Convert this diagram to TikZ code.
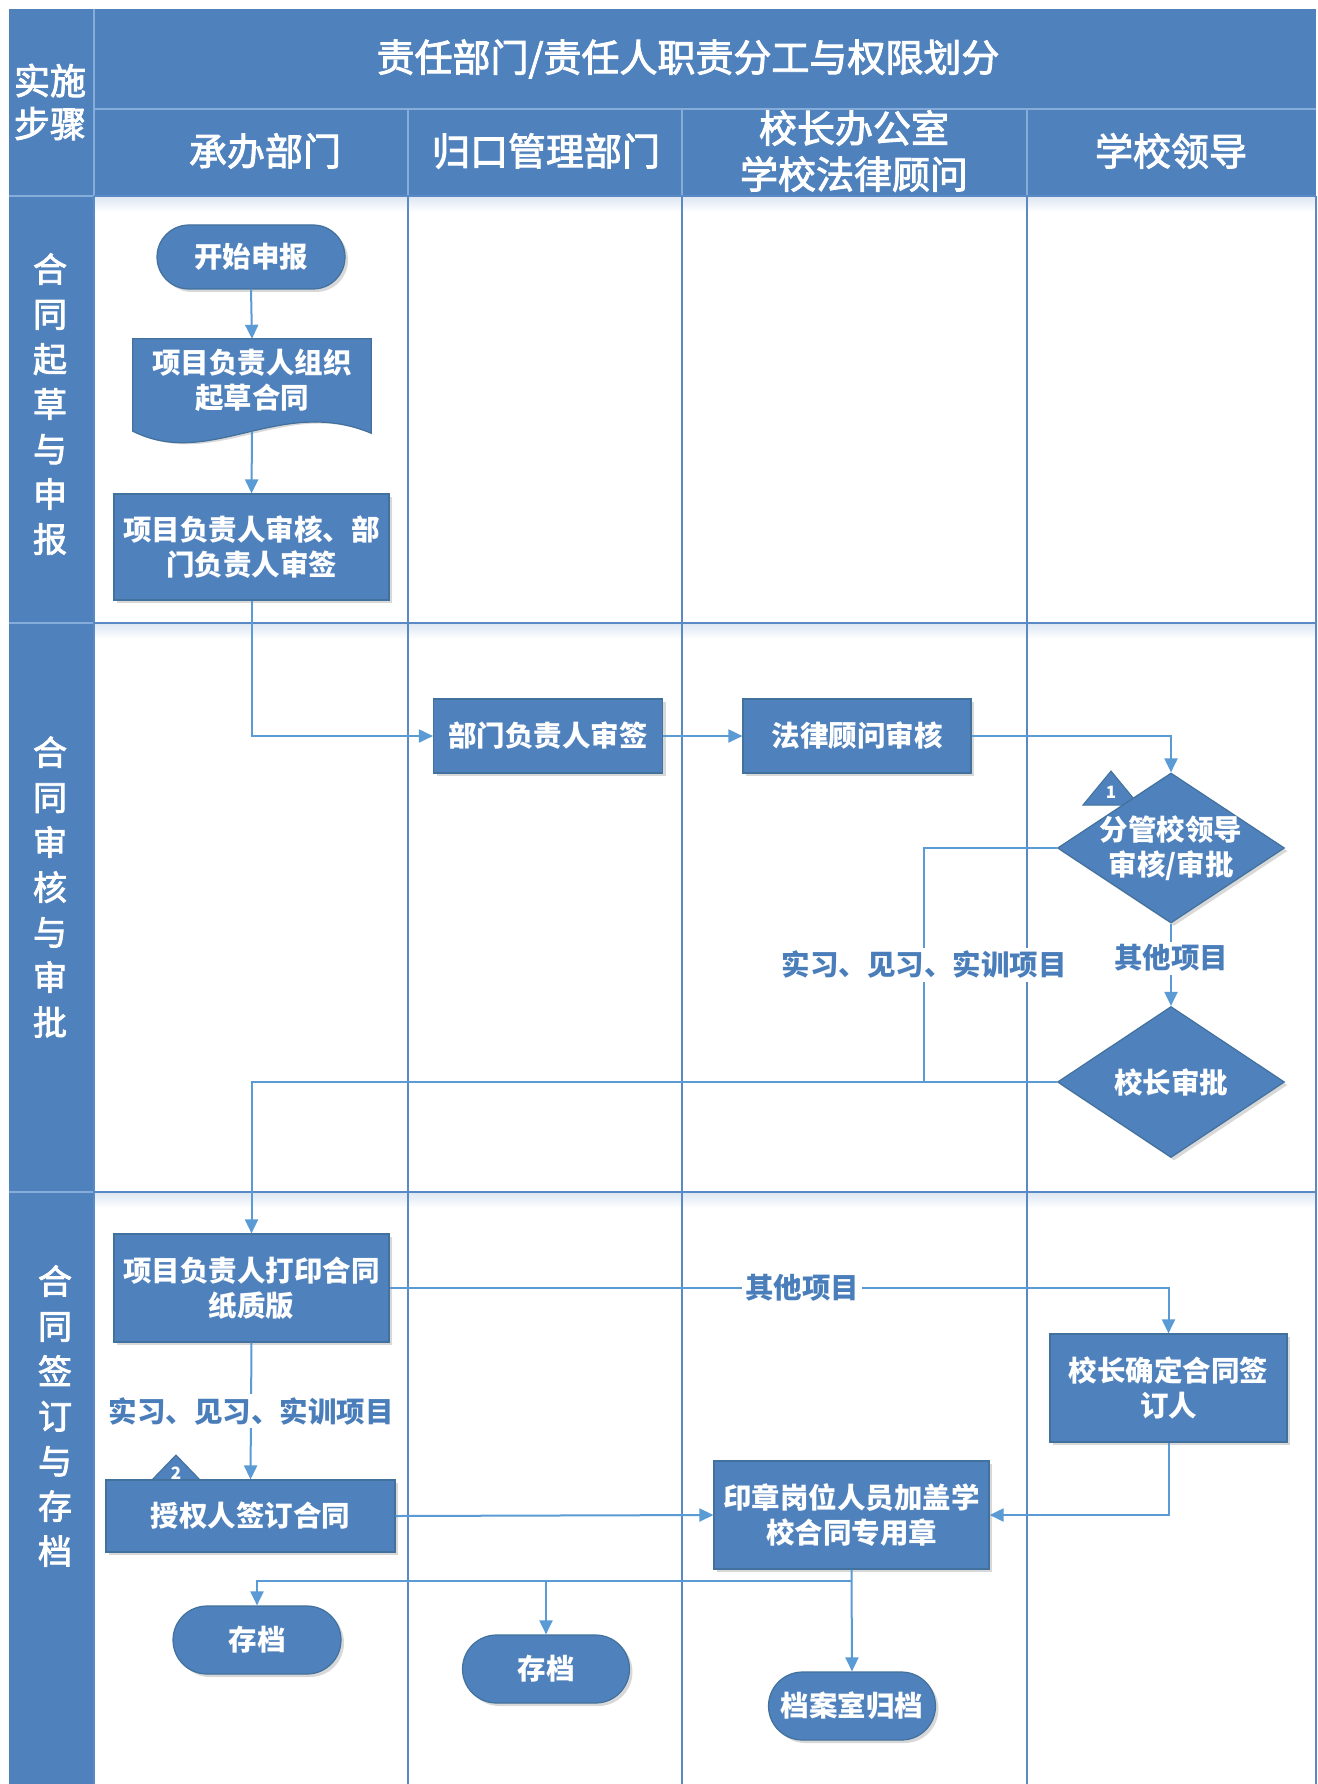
\documentclass[tikz,border=0pt]{standalone}
\usepackage{fontspec}
\newfontfamily\cjk{Noto Sans CJK SC}
\newfontfamily\cjkmed{Noto Sans CJK SC}[FakeBold=2.5]
\usetikzlibrary{shapes.geometric,shapes.misc,arrows.meta,shadows,calc}
\definecolor{boxfill}{HTML}{4F81BD}
\definecolor{boxdraw}{HTML}{41719C}
\definecolor{conncol}{HTML}{5B9BD5}
\definecolor{gridcol}{HTML}{5A8AC6}
\definecolor{hdrline}{HTML}{86ACDA}
\definecolor{labcol}{HTML}{4A7EBB}
\definecolor{lanetop}{HTML}{DCE6F2}
\begin{document}
\begin{tikzpicture}[x=1pt,y=-1pt,
  every node/.style={font=\cjk},
  shd/.style={drop shadow={shadow xshift=3pt, shadow yshift=-3pt, opacity=0.25, fill=black!60}},
  boxtext/.style={text=white, font=\cjk\bfseries\fontsize{28.5}{35}\selectfont, align=center},
  proc/.style={rectangle, fill=boxfill, draw=boxdraw, line width=1.2pt, inner sep=0pt, shd, boxtext},
  term/.style={rounded rectangle, fill=boxfill, draw=boxdraw, line width=1.2pt, inner sep=0pt, shd, boxtext},
  decis/.style={diamond, fill=boxfill, draw=boxdraw, line width=1.2pt, inner sep=0pt, shd},
  hdr/.style={text=white, font=\cjkmed\fontsize{38}{46}\selectfont, align=center},
  rowlab/.style={text=white, font=\cjkmed\fontsize{34}{45}\selectfont, align=center},
  elab/.style={fill=white, text=labcol, font=\cjk\bfseries\fontsize{28.5}{34}\selectfont, inner sep=3pt},
  conn/.style={draw=conncol, line width=2pt, -{Triangle[length=14pt,width=13pt]}},
  plain/.style={draw=conncol, line width=2pt},
  tri/.style={fill=boxfill, draw=boxdraw, line width=1pt},
  trinum/.style={text=white, font=\cjk\bfseries\fontsize{17}{20}\selectfont, inner sep=0pt}
]
\useasboundingbox (0,0) rectangle (1317,1784);
\fill[white] (0,0) rectangle (1317,1784);

% ---------- table background ----------
\fill[boxfill] (9,9) rectangle (1316,196);
\fill[boxfill] (9,196) rectangle (94,1784);
\shade[top color=lanetop, bottom color=white] (94,196) rectangle (1316,212);
\shade[top color=lanetop, bottom color=white] (94,623) rectangle (1316,639);
\shade[top color=lanetop, bottom color=white] (94,1192) rectangle (1316,1208);

% header lines
\draw[hdrline, line width=1.5pt] (94,9) -- (94,196);
\draw[hdrline, line width=1.5pt] (94,109) -- (1316,109);
\foreach \cx in {408,682,1027} \draw[hdrline, line width=1.5pt] (\cx,109) -- (\cx,196);
\draw[hdrline, line width=1.5pt] (9,196) -- (94,196);
\draw[hdrline, line width=1.5pt] (9,623) -- (94,623);
\draw[hdrline, line width=1.5pt] (9,1192) -- (94,1192);

% lane lines
\foreach \cx in {94,408,682,1027,1316} \draw[gridcol, line width=1.6pt] (\cx,196) -- (\cx,1784);
\draw[gridcol, line width=1.6pt] (94,623) -- (1316,623);
\draw[gridcol, line width=1.6pt] (94,1192) -- (1316,1192);
\draw[gridcol, line width=1.6pt] (94,196) -- (1316,196);

% header texts
\node[hdr, font=\cjkmed\fontsize{36}{43}\selectfont] (hsteps) at (50,102) {实施\\步骤};
\node[hdr] (htitle) at (688,59) {责任部门/责任人职责分工与权限划分};
\node[hdr] (hc1) at (265,151) {承办部门};
\node[hdr] (hc2) at (546,151) {归口管理部门};
\node[hdr] (hc3) at (854,151) {校长办公室\\学校法律顾问};
\node[hdr] (hc4) at (1171,151) {学校领导};

% row labels
\node[rowlab] (r1) at (50,404) {合\\同\\起\\草\\与\\申\\报};
\node[rowlab] (r2) at (50,887) {合\\同\\审\\核\\与\\审\\批};
\node[rowlab] (r3) at (55,1416) {合\\同\\签\\订\\与\\存\\档};

% ---------- nodes ----------
\node[term, minimum width=188pt, minimum height=64pt] (start) at (251,257) {开始申报};

% document shape
\node[minimum width=238pt, minimum height=93pt, inner sep=0pt] (draft) at (252,385.5) {};
\fill[black!60, opacity=0.25, xshift=3pt, yshift=-3pt]
  (draft.north west) -- (draft.north east) -- ($(draft.south east)+(0,1)$)
  .. controls (280,395) and (210,470) .. ($(draft.south west)+(0,-1)$) -- cycle;
\filldraw[fill=boxfill, draw=boxdraw, line width=1.2pt]
  (draft.north west) -- (draft.north east) -- ($(draft.south east)+(0,1)$)
  .. controls (280,395) and (210,470) .. ($(draft.south west)+(0,-1)$) -- cycle;
\node[boxtext] (drafttxt) at (252,380) {项目负责人组织\\起草合同};

\node[proc, minimum width=275pt, minimum height=106pt] (check1) at (251.5,547) {项目负责人审核、部\\门负责人审签};
\node[proc, minimum width=229pt, minimum height=74pt] (dept) at (548,736) {部门负责人审签};
\node[proc, minimum width=228pt, minimum height=74pt] (legal) at (857,736) {法律顾问审核};

% triangle 1 then diamond 1
\filldraw[tri] (1111,771) -- (1139,805) -- (1083,805) -- cycle;
\node[trinum] (t1) at (1111,792) {1};
\node[decis, minimum width=227pt, minimum height=150pt] (d1) at (1171,848) {};
\node[boxtext] (d1txt) at (1171,848) {分管校领导\\审核/审批};
\node[decis, minimum width=227pt, minimum height=151pt] (d2) at (1171,1082) {};
\node[boxtext] (d2txt) at (1171,1082) {校长审批};

\node[proc, minimum width=275pt, minimum height=108pt] (print) at (251.5,1288) {项目负责人打印合同\\纸质版};
\filldraw[tri] (176,1455) -- (205,1485) -- (147,1485) -- cycle;
\node[proc, minimum width=289pt, minimum height=72pt] (sign) at (250.5,1516) {授权人签订合同};
\node[trinum] (t2) at (176,1473) {2};
\node[proc, minimum width=237pt, minimum height=108pt] (pres) at (1168.5,1388) {校长确定合同签\\订人};
\node[proc, minimum width=275pt, minimum height=108pt] (seal) at (851.5,1515) {印章岗位人员加盖学\\校合同专用章};
\node[term, minimum width=168pt, minimum height=68pt] (arch1) at (257,1640) {存档};
\node[term, minimum width=167pt, minimum height=68pt] (arch2) at (546,1669) {存档};
\node[term, minimum width=167pt, minimum height=68pt] (arch3) at (852,1706) {档案室归档};

% ---------- connectors ----------
\draw[conn] (start.south) -- (draft.north);
\draw[conn] (draft.south) -- (check1.north);
\draw[conn] (check1.south) |- (dept.west);
\draw[conn] (dept.east) -- (legal.west);
\draw[conn] (legal.east) -| (d1.north);

\coordinate (j1) at (924,1082);
\draw[plain] (d1.west) -| (j1) node[elab, pos=0.75] (lab1) {实习、见习、实训项目};
\draw[conn] (d1.south) -- (d2.north) node[elab, pos=0.42] (lab2) {其他项目};
\draw[conn] (d2.west) -- (j1) -| (print.north);

\draw[conn] (print.east) -| (pres.north) node[elab, pos=0.265] (lab3) {其他项目};
\draw[conn] (print.south) -- (sign.north) node[elab, pos=0.5] (lab4) {实习、见习、实训项目};
\draw[conn] (sign.east) -- (seal.west);
\draw[conn] (pres.south) |- (seal.east);

\coordinate (b1) at (852,1581);
\coordinate (b2) at (546,1581);
\draw[conn] (seal.south) -- (arch3.north);
\draw[conn] (b1) -| (arch1.north);
\draw[conn] (b2) -- (arch2.north);
\end{tikzpicture}
\end{document}
